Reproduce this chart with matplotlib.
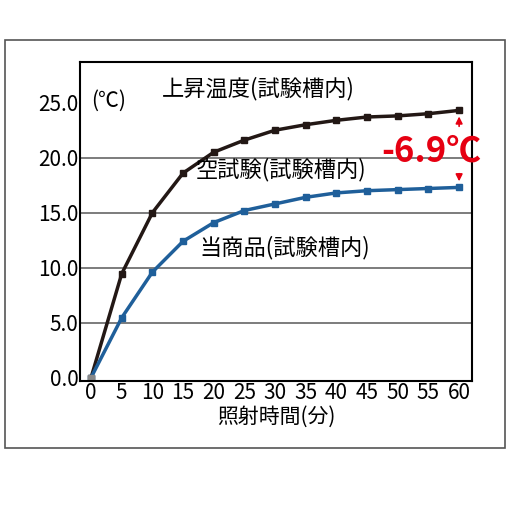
import matplotlib
matplotlib.use("Agg")
import matplotlib.pyplot as plt
from matplotlib.patches import Rectangle

plt.rcParams['font.family'] = ['Noto Sans CJK JP', 'DejaVu Sans']

minutes = [0, 5, 10, 15, 20, 25, 30, 35, 40, 45, 50, 55, 60]
empty = [0, 9.45, 15.0, 18.6, 20.5, 21.6, 22.5, 23.0, 23.4, 23.7, 23.8, 24.0, 24.3]
product = [0, 5.45, 9.6, 12.4, 14.1, 15.2, 15.8, 16.4, 16.8, 17.0, 17.1, 17.2, 17.3]
yticks = [0, 5, 10, 15, 20, 25]
ytick_labels = ["0.0", "5.0", "10.0", "15.0", "20.0", "25.0"]

fig = plt.figure(figsize=(5.12, 5.12), dpi=100)
fig.patches.append(Rectangle((5/512, 1-448/512), 500/512, 408/512, transform=fig.transFigure,
                             fill=False, edgecolor='#555555', lw=1.2))
ax = fig.add_axes([80/512, 1-381/512, 392/512, 319/512])
ax.set_xlim(-1.8, 62.1)
ax.set_ylim(-0.3, 28.7)
for y in [5, 10, 15, 20]:
    ax.axhline(y, color='#666666', lw=1.2, zorder=0)
ax.plot(minutes, empty, color='#231815', lw=2.5, marker='s', ms=5)
ax.plot(minutes, product, color='#1f5f9a', lw=2.5, marker='s', ms=5)
ax.plot([0], [0], marker='s', color='#888888', ms=5)
ax.set_yticks(yticks)
ax.set_yticklabels(ytick_labels, fontsize=15)
ax.set_xticks(minutes)
ax.set_xticklabels([str(m) for m in minutes], fontsize=15)
ax.tick_params(length=0, pad=1)
for s in ax.spines.values():
    s.set_linewidth(1.5)
ax.text(0.455, 0.955, "上昇温度(試験槽内)", transform=ax.transAxes, ha='center', va='top', fontsize=16)
ax.text(0.0, 25.2, "(℃)", ha='left', va='center', fontsize=15)
ax.text(31, 18.9, "空試験(試験槽内)", ha='center', va='center', fontsize=16)
ax.text(31.5, 11.8, "当商品(試験槽内)", ha='center', va='center', fontsize=16)
ax.text(55.5, 20.6, "-6.9℃", ha='center', va='center', fontsize=25, color='#e60012', fontweight='bold')
ax.annotate("", xy=(60, 24.0), xytext=(60, 22.6), arrowprops=dict(arrowstyle='-|>', color='#e60012', lw=1.2))
ax.annotate("", xy=(60, 17.6), xytext=(60, 18.8), arrowprops=dict(arrowstyle='-|>', color='#e60012', lw=1.2))
ax.set_xlabel("照射時間(分)", fontsize=15, labelpad=1)
fig.savefig("out.png", dpi=100)
